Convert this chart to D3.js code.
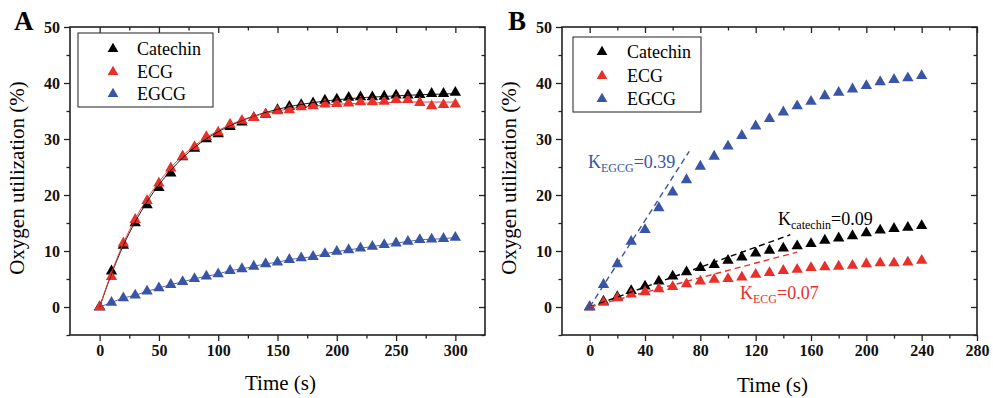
<!DOCTYPE html>
<html><head><meta charset="utf-8">
<script src="https://cdn.jsdelivr.net/npm/d3@7"></script>
<style>body{margin:0;background:#fff}svg{display:block;font-family:"Liberation Serif","Times New Roman",serif}text{font-family:"Liberation Serif","Times New Roman",serif}</style>
</head><body><svg id="c" width="993" height="398"></svg>
<script>
// ---------- DATA ----------
const seriesNames = ["Catechin", "ECG", "EGCG"];
const seriesColors = ["#000000", "#e8302b", "#3a55a6"];

// Panel A
const timeA = [0,10,20,30,40,50,60,70,80,90,100,110,120,130,140,150,160,170,180,190,200,210,220,230,240,250,260,270,280,290,300];
const catechinA = [0,6.4,11.0,15.0,18.2,21.3,23.9,26.8,28.3,30.0,30.9,32.2,33.0,33.8,34.4,35.2,35.8,36.1,36.4,36.9,37.1,37.4,37.5,37.5,37.6,37.8,37.8,37.9,38.1,38.1,38.3];
const ecgA = [0,5.4,11.4,15.6,19.0,22.1,24.8,26.9,28.6,30.4,31.2,32.6,33.3,33.8,34.4,35.0,35.2,35.7,35.9,36.2,36.3,36.4,36.6,36.6,36.7,37.0,37.0,36.5,35.9,36.1,36.2];
const egcgA = [0,0.8,1.6,2.1,2.8,3.4,4.0,4.5,5.05,5.5,5.9,6.5,6.8,7.25,7.7,8.0,8.45,8.75,9.0,9.5,9.9,10.2,10.5,10.8,11.1,11.4,11.7,12.0,12.1,12.2,12.4];
// fitted curves in panel A
const fitTimeA = [0,10,20,30,40,60,80,100,120,150,180,210,240,270,300];
const fitCatechinA = [0,5.9,11.0,15.2,18.8,24.4,28.5,31.3,33.3,35.3,36.5,37.2,37.6,37.9,38.1];
const fitEcgA = [0,6.1,11.4,15.7,19.3,24.9,28.8,31.5,33.4,35.0,35.9,36.3,36.5,36.6,36.6];

// Panel B
const timeB = [0,10,20,30,40,50,60,70,80,90,100,110,120,130,140,150,160,170,180,190,200,210,220,230,240];
const catechinB = [0,1.0,1.8,2.9,3.7,4.6,5.5,6.25,7.0,7.55,8.3,8.9,9.6,10.1,10.5,10.9,11.3,11.9,12.3,12.7,13.2,13.7,14.0,14.2,14.5];
const ecgB = [0,0.8,1.6,2.3,2.7,3.2,3.6,4.1,4.6,4.9,5.05,5.3,5.8,6.1,6.5,6.7,7.0,7.15,7.25,7.4,7.7,7.85,7.85,8.0,8.3];
const egcgB = [0,4.0,7.7,11.7,13.8,17.7,20.5,22.7,25.1,26.9,28.7,30.6,32.3,33.6,34.8,35.9,36.7,37.7,38.3,38.9,39.5,40.2,40.6,40.9,41.3];
// initial-rate dashed lines: [t0, y0, t1, y1]
const slopeEgcg = [0,0,72,27.8];
const slopeCatechin = [0,0,145,12.9];
const slopeEcg = [0,0,150,9.8];
const slopeLabels = [
  {main:"K", sub:"EGCG", rest:"=0.39"},
  {main:"K", sub:"catechin", rest:"=0.09"},
  {main:"K", sub:"ECG", rest:"=0.07"}
];

// axis ticks
const yMajor = [0,10,20,30,40,50];
const yMinor = [-5,5,15,25,35,45];
const xMajorA = [0,50,100,150,200,250,300];
const xMinorA = [25,75,125,175,225,275];
const xMajorB = [0,40,80,120,160,200,240,280];
const xMinorB = [20,60,100,140,180,220,260];

// ---------- DRAW ----------
const FONT = '"Liberation Serif","Times New Roman",serif';
const svg = d3.select("#c");
const yDomain = [-5, 50];
const triSize = 56;

function panel(opt) {
  const g = svg.append("g");
  const x = d3.scaleLinear().domain(opt.xDomain).range([opt.left, opt.left + 415]);
  const y = d3.scaleLinear().domain(yDomain).range([335, 27]);
  const L = opt.left, R = opt.left + 415, T = 27, B = 335;

  const fmt = d => d;
  function addAxis(axisGen, transform, majors, minors, out, labels) {
    const s = out ? 1 : -1;
    const gm = g.append("g").attr("transform", transform)
      .call(axisGen.tickValues(majors).tickSize(6 * s).tickPadding(out ? 4 : 0).tickFormat(labels ? fmt : ""));
    const gn = g.append("g").attr("transform", transform)
      .call(axisGen.tickValues(minors).tickSize(3.5 * s).tickFormat(""));
    [gm, gn].forEach(a => {
      a.attr("font-family", FONT);
      a.select(".domain").remove();
      a.selectAll("line").attr("stroke", "#222").attr("stroke-width", 1.3);
    });
    gm.selectAll("text").attr("font-family", FONT).attr("font-size", 16).attr("font-weight", "bold").attr("fill", "#111");
    return gm;
  }
  addAxis(d3.axisBottom(x), `translate(0,${B})`, opt.xMajor, opt.xMinor, true, true);
  addAxis(d3.axisTop(x), `translate(0,${T})`, opt.xMajor, opt.xMinor, false, false);
  addAxis(d3.axisLeft(y), `translate(${L},0)`, yMajor, yMinor, true, true);
  addAxis(d3.axisRight(y), `translate(${R},0)`, yMajor, yMinor, false, false);

  g.append("rect").attr("x", L).attr("y", T).attr("width", R - L).attr("height", B - T)
    .attr("fill", "none").attr("stroke", "#222").attr("stroke-width", 1.6);

  g.append("text").attr("x", (L + R) / 2 + 3).attr("y", opt.xTitleY).attr("text-anchor", "middle")
    .attr("font-family", FONT).attr("font-weight", "normal").attr("font-size", 21).text("Time (s)");
  g.append("text").attr("transform", `translate(${L - 46},${(T + B) / 2 - 3}) rotate(-90)`)
    .attr("text-anchor", "middle").attr("font-family", FONT).attr("font-size", 21).text("Oxygen utilization (%)");
  g.append("text").attr("x", opt.letterX).attr("y", 30).attr("font-family", FONT).attr("font-size", 27).attr("font-weight", "bold")
    .text(opt.letter);

  return {g, x, y};
}

function drawTriangles(p, xs, ys, color) {
  p.g.append("g").selectAll("path").data(xs).join("path")
    .attr("d", d3.symbol(d3.symbolTriangle, triSize))
    .attr("transform", (d, i) => `translate(${p.x(d)},${p.y(ys[i])})`)
    .attr("fill", color);
}
function drawLine(p, xs, ys, color, width, dash, curve) {
  const line = d3.line().x(d => p.x(d[0])).y(d => p.y(d[1])).curve(curve || d3.curveLinear);
  p.g.append("path").datum(xs.map((d, i) => [d, ys[i]]))
    .attr("d", line).attr("fill", "none").attr("stroke", color)
    .attr("stroke-width", width).attr("stroke-dasharray", dash || null);
}
function legend(p, bx, by, bw, bh, mx, tx, rows) {
  p.g.append("rect").attr("x", bx).attr("y", by).attr("width", bw).attr("height", bh)
    .attr("fill", "#fff").attr("stroke", "#333").attr("stroke-width", 1.1);
  seriesNames.forEach((n, i) => {
    p.g.append("path").attr("d", d3.symbol(d3.symbolTriangle, triSize - 6))
      .attr("transform", `translate(${mx},${rows[i]})`).attr("fill", seriesColors[i]);
    p.g.append("text").attr("x", tx).attr("y", rows[i] + 6).attr("font-family", FONT).attr("font-size", 18).text(n);
  });
}

// Panel A
const pA = panel({left: 70, xDomain: [-25, 325], xMajor: xMajorA, xMinor: xMinorA, xTitleY: 390, letter: "A", letterX: 14});
drawTriangles(pA, timeA, egcgA, seriesColors[2]);
drawTriangles(pA, timeA, catechinA, seriesColors[0]);
drawTriangles(pA, timeA, ecgA, seriesColors[1]);
drawLine(pA, timeA, egcgA, seriesColors[2], 0.9, null, d3.curveMonotoneX);
drawLine(pA, fitTimeA, fitCatechinA, seriesColors[0], 0.9, null, d3.curveMonotoneX);
drawLine(pA, fitTimeA, fitEcgA, seriesColors[1], 0.9, null, d3.curveMonotoneX);
legend(pA, 78, 33, 135, 74, 113, 137, [49, 72, 94]);

// Panel B
const pB = panel({left: 562, xDomain: [-20, 280], xMajor: xMajorB, xMinor: xMinorB, xTitleY: 392, letter: "B", letterX: 508});
drawTriangles(pB, timeB, catechinB, seriesColors[0]);
drawTriangles(pB, timeB, ecgB, seriesColors[1]);
drawTriangles(pB, timeB, egcgB, seriesColors[2]);
[[slopeEgcg, 2], [slopeCatechin, 0], [slopeEcg, 1]].forEach(([s, ci]) => {
  drawLine(pB, [s[0], s[2]], [s[1], s[3]], seriesColors[ci], 1.4, "6,4");
});
legend(pB, 573, 37, 128, 75, 602, 627, [52, 76, 99]);

function kLabel(p, x, y, lab, color) {
  const t = p.g.append("text").attr("x", x).attr("y", y).attr("font-family", FONT).attr("font-size", 18).attr("fill", color);
  t.append("tspan").text(lab.main);
  t.append("tspan").attr("font-size", 12).attr("dy", 4).text(lab.sub);
  t.append("tspan").attr("dy", -4).text(lab.rest);
}
kLabel(pB, 588, 168, slopeLabels[0], seriesColors[2]);
kLabel(pB, 778, 225, slopeLabels[1], seriesColors[0]);
kLabel(pB, 740, 299, slopeLabels[2], seriesColors[1]);
</script></body></html>
